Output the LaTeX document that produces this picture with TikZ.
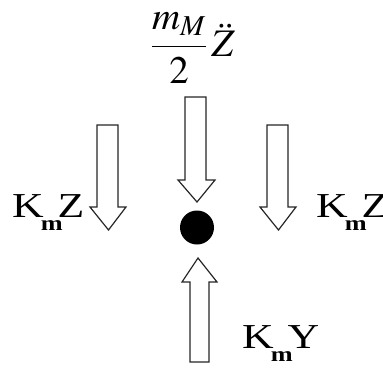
\documentclass[tikz,border=0pt]{standalone}
\usepackage{amsmath}
\usepackage{mathptmx}
\usepackage{fontspec}
\setmainfont{Liberation Serif}
\newfontfamily\widefont[FakeStretch=1.25]{Liberation Serif}
\usetikzlibrary{positioning}

% K with its bold subscript m
\newcommand{\kmsub}{K\kern-3pt\raisebox{-13pt}{\fontsize{21}{21}\selectfont\bfseries m}\kern-5pt}

\begin{document}
\begin{tikzpicture}[
        x=1pt, y=-1pt,
        blockarrow/.style={draw=black!85, line width=1.2pt, fill=white, line join=miter},
        mass/.style={circle, fill=black, inner sep=0pt, minimum width=34pt, minimum height=32pt},
        force/.style={inner sep=0pt, anchor=base west, font=\widefont\fontsize{35}{38}\selectfont}
    ]
        \useasboundingbox (0,0) rectangle (383,367);

        % arrows pushing down on the mass
        \draw[blockarrow] (97,125) -- (118,125) -- (118,207) -- (126,207) -- (108.5,230)
            -- (90,207) -- (97,207) -- cycle;
        \draw[blockarrow] (185,97) -- (206,97) -- (206,180) -- (215,180) -- (197,202)
            -- (178,180) -- (185,180) -- cycle;
        \draw[blockarrow] (267,125) -- (288,125) -- (288,207) -- (296,207) -- (278.5,230)
            -- (260,207) -- (267,207) -- cycle;
        % arrow pushing up
        \draw[blockarrow] (190,362) -- (209,362) -- (209,282) -- (217,282) -- (198,258)
            -- (182,282) -- (190,282) -- cycle;

        \node[mass] (m) at (197,227.5) {};

        \node[inner sep=0pt, font=\fontsize{39}{42}\selectfont] (inertia) at (193,48)
            {$\dfrac{m_{M}}{2}\,\ddot{Z}$};
        \node[force] (kleft) at (12,217) {\kmsub Z};
        \node[force] (kright) at (316,217) {\kmsub Z};
        \node[force] (kbottom) at (242,348) {\kmsub Y};
    \end{tikzpicture}
\end{document}
